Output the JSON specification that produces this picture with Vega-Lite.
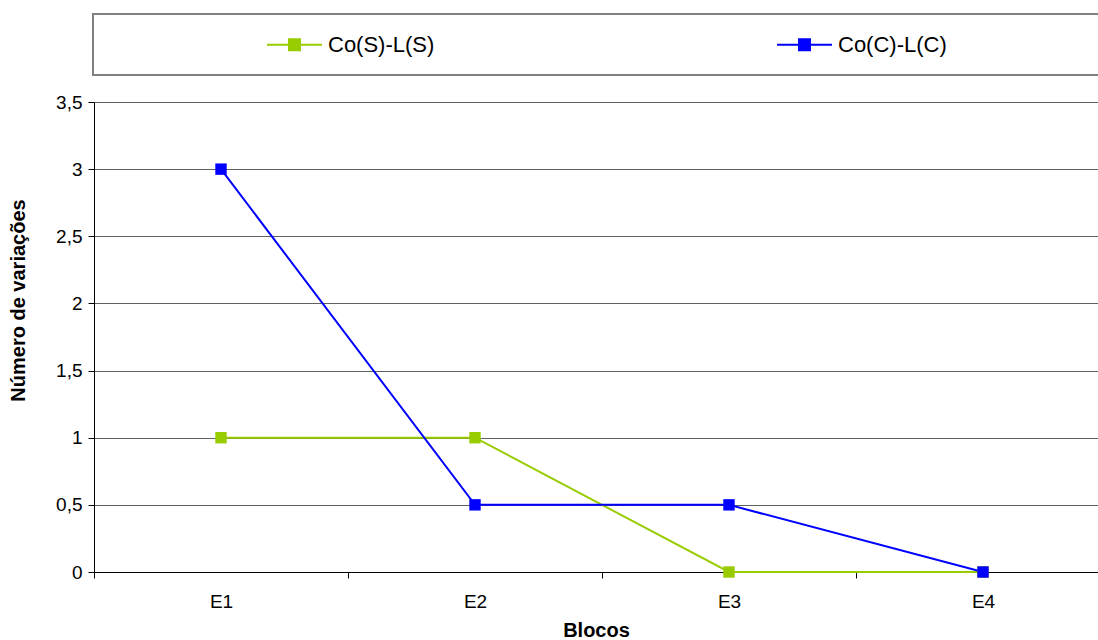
{
  "$schema": "https://vega.github.io/schema/vega-lite/v6.json",
  "width": 1004,
  "height": 470,
  "autosize": {"type": "none"},
  "padding": {"left": 94, "top": 102, "right": 0, "bottom": 68},
  "background": "white",
  "config": {"view": {"stroke": null}, "font": "Liberation Sans"},
  "data": {
    "values": [
      {"serie": "Co(S)-L(S)", "bloco": "E1", "valor": 1},
      {"serie": "Co(S)-L(S)", "bloco": "E2", "valor": 1},
      {"serie": "Co(S)-L(S)", "bloco": "E3", "valor": 0},
      {"serie": "Co(S)-L(S)", "bloco": "E4", "valor": 0},
      {"serie": "Co(C)-L(C)", "bloco": "E1", "valor": 3},
      {"serie": "Co(C)-L(C)", "bloco": "E2", "valor": 0.5},
      {"serie": "Co(C)-L(C)", "bloco": "E3", "valor": 0.5},
      {"serie": "Co(C)-L(C)", "bloco": "E4", "valor": 0}
    ]
  },
  "encoding": {
    "x": {
      "field": "bloco",
      "type": "nominal",
      "scale": {"type": "band", "paddingInner": 0, "paddingOuter": 0, "range": [0, 1016]},
      "axis": {
        "title": "Blocos",
        "titleFontSize": 20,
        "titleFontWeight": "bold",
        "titleColor": "black",
        "titleX": 502,
        "titleY": 64,
        "titleBaseline": "alphabetic",
        "titleAlign": "center",
        "labelFontSize": 19,
        "labelColor": "black",
        "labelAngle": 0,
        "labelPadding": 14,
        "tickBand": "extent",
        "tickSize": 6,
        "tickColor": "black",
        "domainColor": "black",
        "grid": false
      }
    },
    "y": {
      "field": "valor",
      "type": "quantitative",
      "scale": {"domain": [0, 3.5], "nice": false, "zero": true},
      "axis": {
        "title": "Número de variações",
        "titleFontSize": 20,
        "titleFontWeight": "bold",
        "titleColor": "black",
        "titleX": -76,
        "titleY": 198,
        "titleAngle": -90,
        "titleAlign": "center",
        "titleBaseline": "middle",
        "values": [0, 0.5, 1, 1.5, 2, 2.5, 3, 3.5],
        "labelExpr": "replace(format(datum.value, '~g'), '.', ',')",
        "labelFontSize": 19,
        "labelColor": "black",
        "labelPadding": 6,
        "tickSize": 6,
        "tickColor": "black",
        "domainColor": "black",
        "grid": true,
        "gridColor": "#606060",
        "gridWidth": 1,
        "gridOpacity": 1
      }
    },
    "color": {
      "field": "serie",
      "type": "nominal",
      "sort": ["Co(S)-L(S)", "Co(C)-L(C)"],
      "scale": {"domain": ["Co(S)-L(S)", "Co(C)-L(C)"], "range": ["#99CC00", "#0000FF"]},
      "legend": {
        "orient": "none",
        "legendX": -1,
        "legendY": -88,
        "direction": "horizontal",
        "columns": 2,
        "title": " ",
        "titleOrient": "left",
        "titlePadding": 171,
        "titleFontSize": 20,
        "padding": 19,
        "strokeColor": "#808080",
        "labelFontSize": 22,
        "labelColor": "black",
        "labelOffset": 22,
        "labelLimit": 1000,
        "columnPadding": 338,
        "symbolType": "M-2.619,0H2.619M-0.524,-0.524H0.524V0.524H-0.524Z",
        "symbolSize": 441,
        "symbolStrokeWidth": 2,
        "labelExpr": "datum.value == 'Co(C)-L(C)' ? datum.label + '                              \u200b' : datum.label",
        "encode": {
          "legend": {"update": {"strokeWidth": {"value": 2}}},
          "symbols": {
            "update": {
              "fill": {"scale": "color", "field": "value"},
              "stroke": {"scale": "color", "field": "value"},
              "opacity": {"value": 1},
              "fillOpacity": {"value": 1}
            }
          }
        }
      }
    }
  },
  "layer": [
    {"mark": {"type": "line", "strokeWidth": 2}},
    {"mark": {"type": "point", "shape": "square", "filled": true, "size": 130, "opacity": 1}}
  ]
}
